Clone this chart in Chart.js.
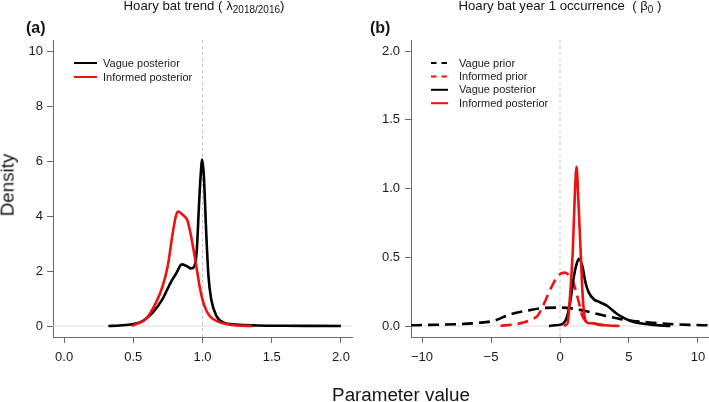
<!DOCTYPE html>
<html><head><meta charset="utf-8">
<script src="https://cdn.jsdelivr.net/npm/chart.js@4/dist/chart.umd.min.js"></script>
<style>
html,body{margin:0;padding:0;background:#fff;}
#wrap{position:relative;width:709px;height:402px;overflow:hidden;font-family:"Liberation Sans",Arial,sans-serif;color:#151515;}
canvas{position:absolute;top:0;}
#ca{left:0;} #cb{left:360px;}
.t{position:absolute;white-space:nowrap;line-height:1;}
.title{font-size:13.2px;top:-1px;transform:translateX(-50%);}
.title sub{font-size:10px;vertical-align:baseline;position:relative;top:3px;}
.pl{font-size:16px;font-weight:bold;top:20px;}
.ax{font-size:18.8px;}
</style></head><body>
<div id="wrap">
<canvas id="ca" width="360" height="402"></canvas>
<canvas id="cb" width="349" height="402"></canvas>
<div class="t title" style="left:204px">Hoary bat trend ( λ<sub>2018/2016</sub>)</div>
<div class="t title" style="left:560px">Hoary bat year 1 occurrence &nbsp;( β<sub>0</sub> )</div>
<div class="t pl" style="left:26px">(a)</div>
<div class="t pl" style="left:370px">(b)</div>
<div class="t ax" style="left:8px;top:185px;transform:translate(-50%,-50%) rotate(-90deg);">Density</div>
<div class="t ax" style="left:401px;top:395px;transform:translate(-50%,-50%);">Parameter value</div>
</div>
<script>
// ---------- Panel (a): Hoary bat trend ----------
const aVagueX = [0.32,0.40,0.50,0.57,0.64,0.71,0.77,0.81,0.85,0.885,0.918,0.942,0.959,0.973,0.986,0.998,1.010,1.027,1.043,1.063,1.10,1.15,1.24,1.40,1.60,1.80,2.00];
const aVagueY = [0.00,0.02,0.07,0.19,0.49,0.97,1.58,1.91,2.24,2.18,2.09,2.18,2.78,4.22,5.43,6.05,5.43,3.38,1.82,0.97,0.37,0.13,0.05,0.02,0.01,0.005,0.0];
const aInfX = [0.49,0.52,0.59,0.664,0.712,0.749,0.785,0.81,0.826,0.857,0.889,0.913,0.935,0.959,0.983,1.014,1.05,1.10,1.17,1.25,1.36];
const aInfY = [0.0,0.07,0.25,0.85,1.45,2.18,3.38,4.04,4.16,4.04,3.86,3.38,2.78,2.06,1.34,0.73,0.37,0.19,0.07,0.02,0.0];
const aXTicks = [0, 0.5, 1, 1.5, 2];
const aYTicks = [0, 2, 4, 6, 8, 10];
const aXRange = [-0.08, 2.08];
const aYRange = [-0.4, 10.4];
const aRefX = 1;

// ---------- Panel (b): Hoary bat year 1 occurrence ----------
const bVaguePriorX = [-10.8,-9.6,-7.2,-6.0,-4.8,-3.6,-2.35,-1.3,-0.3,0.5,1.2,2.0,2.8,3.45,4.4,5.2,6.35,8.0,9.5,10.8];
const bVaguePriorY = [0.005,0.008,0.014,0.022,0.038,0.085,0.112,0.13,0.134,0.132,0.122,0.105,0.085,0.07,0.05,0.038,0.027,0.014,0.008,0.005];
const bInfPriorX = [-4.3,-3.4,-2.6,-2.0,-1.62,-1.17,-0.81,-0.45,-0.1,0.3,0.6,0.88,1.12,1.37,1.62,1.98,2.4,2.8,3.3];
const bInfPriorY = [0.003,0.01,0.027,0.05,0.075,0.159,0.243,0.316,0.37,0.388,0.375,0.34,0.267,0.171,0.074,0.027,0.02,0.012,0.003];
const bVaguePostX = [-0.8,-0.4,0.16,0.53,0.77,1.01,1.2,1.37,1.62,1.85,2.09,2.45,2.93,3.41,4.14,4.8,5.4,6.6,8.0];
const bVaguePostY = [0.0,0.005,0.014,0.074,0.195,0.363,0.45,0.489,0.435,0.315,0.243,0.195,0.171,0.147,0.087,0.05,0.027,0.01,0.0];
const bInfPostX = [0.28,0.45,0.57,0.71,0.93,1.06,1.20,1.33,1.49,1.66,1.85,2.1,2.4,2.8,3.3,3.8,4.3];
const bInfPostY = [0.0,0.01,0.027,0.195,0.556,0.917,1.157,0.917,0.556,0.195,0.04,0.02,0.02,0.01,0.005,0.002,0.0];
const bXTicks = [-10, -5, 0, 5, 10];
const bYTicks = [0, 0.5, 1, 1.5, 2];
const bXRange = [-10.8, 10.8];
const bYRange = [-0.08, 2.08];
const bRefX = 0;

const BLACK = '#000000', RED = '#ee1111', AXIS = '#6a6a6a';
const FONT = '"Liberation Sans", Arial, sans-serif';

const pts = (xs, ys) => xs.map((x, i) => ({x, y: ys[i]}));

function curve(label, xs, ys, color, dash, order) {
  return {label, data: pts(xs, ys), borderColor: color, borderWidth: 2.6, borderDash: dash,
    pointRadius: 0, fill: false, cubicInterpolationMode: 'monotone', order, inLegend: true};
}
function refLines(xr, yr, refX) {
  return [
    {label: 'zero', data: [{x: xr[0], y: 0}, {x: xr[1], y: 0}], borderColor: '#dddddd', borderWidth: 1,
     pointRadius: 0, tension: 0, order: 20},
    {label: 'ref', data: [{x: refX, y: yr[0]}, {x: refX, y: yr[1]}], borderColor: '#c4c4c4', borderWidth: 1,
     borderDash: [3, 3], pointRadius: 0, tension: 0, order: 21}
  ];
}

function scaleCfg(axis, range, ticks, fmt, size, pad) {
  return {
    type: 'linear', min: range[0], max: range[1], bounds: 'data',
    afterBuildTicks: s => { s.ticks = ticks.map(v => ({value: v})); },
    ticks: {autoSkip: false, maxRotation: 0, minRotation: 0, padding: pad, color: '#1a1a1a',
            font: {family: FONT, size: 13}, callback: v => fmt(v)},
    grid: {display: true, drawOnChartArea: false, drawTicks: true, tickLength: 6, color: AXIS, lineWidth: 1},
    border: {display: true, color: AXIS, width: 1},
    afterFit: s => {
      if (axis === 'x') s.height = size; else s.width = size;
      s.paddingLeft = 0; s.paddingRight = 0; s.paddingTop = 0; s.paddingBottom = 0;
    }
  };
}

const legendPlugin = {
  id: 'rlegend',
  afterDraw(chart, args, opts) {
    const ctx = chart.ctx;
    const items = chart.data.datasets.filter(d => d.inLegend)
      .sort((p, q) => p.legendIndex - q.legendIndex);
    ctx.save();
    items.forEach((d, i) => {
      const y = opts.y0 + i * opts.dy;
      ctx.strokeStyle = d.borderColor; ctx.lineWidth = 2;
      ctx.setLineDash(d.borderDash && d.borderDash.length ? [5.5, 5] : []);
      ctx.beginPath(); ctx.moveTo(opts.x0, y); ctx.lineTo(opts.x1, y); ctx.stroke();
      ctx.setLineDash([]);
      ctx.fillStyle = '#1a1a1a'; ctx.font = '11px ' + FONT; ctx.textBaseline = 'middle';
      ctx.fillText(d.label, opts.tx, y + 0.5);
    });
    ctx.restore();
  }
};

const fmt1 = v => v.toFixed(1);
const fmtInt = v => String(v).replace('-', '\u2212');

const dsA = [
  Object.assign(curve('Vague posterior', aVagueX, aVagueY, BLACK, [], 3), {legendIndex: 0}),
  Object.assign(curve('Informed posterior', aInfX, aInfY, RED, [], 2), {legendIndex: 1}),
  ...refLines(aXRange, aYRange, aRefX)
];

new Chart(document.getElementById('ca'), {
  type: 'line',
  data: {datasets: dsA},
  options: {
    responsive: false, animation: false, events: [],
    layout: {padding: {left: 0, right: 8, top: 40, bottom: 25}},
    plugins: {legend: {display: false}, tooltip: {enabled: false},
      rlegend: {x0: 74, x1: 97, tx: 103, y0: 63, dy: 14}},
    scales: {
      x: scaleCfg('x', aXRange, aXTicks, fmt1, 40, 7),
      y: scaleCfg('y', aYRange, aYTicks, fmtInt, 53, 4)
    }
  },
  plugins: [legendPlugin]
});

const dsB = [
  Object.assign(curve('Vague prior', bVaguePriorX, bVaguePriorY, BLACK, [11, 6], 5), {legendIndex: 0}),
  Object.assign(curve('Informed prior', bInfPriorX, bInfPriorY, RED, [11, 6], 4), {legendIndex: 1}),
  Object.assign(curve('Vague posterior', bVaguePostX, bVaguePostY, BLACK, [], 3), {legendIndex: 2}),
  Object.assign(curve('Informed posterior', bInfPostX, bInfPostY, RED, [], 2), {legendIndex: 3}),
  ...refLines(bXRange, bYRange, bRefX)
];

new Chart(document.getElementById('cb'), {
  type: 'line',
  data: {datasets: dsB},
  options: {
    responsive: false, animation: false, events: [],
    layout: {padding: {left: 0, right: 0, top: 40, bottom: 25}},
    plugins: {legend: {display: false}, tooltip: {enabled: false},
      rlegend: {x0: 71, x1: 88, tx: 99, y0: 63, dy: 13.4}},
    scales: {
      x: scaleCfg('x', bXRange, bXTicks, fmtInt, 40, 7),
      y: scaleCfg('y', bYRange, bYTicks, fmt1, 51, 5)
    }
  },
  plugins: [legendPlugin]
});
</script>
</body></html>
